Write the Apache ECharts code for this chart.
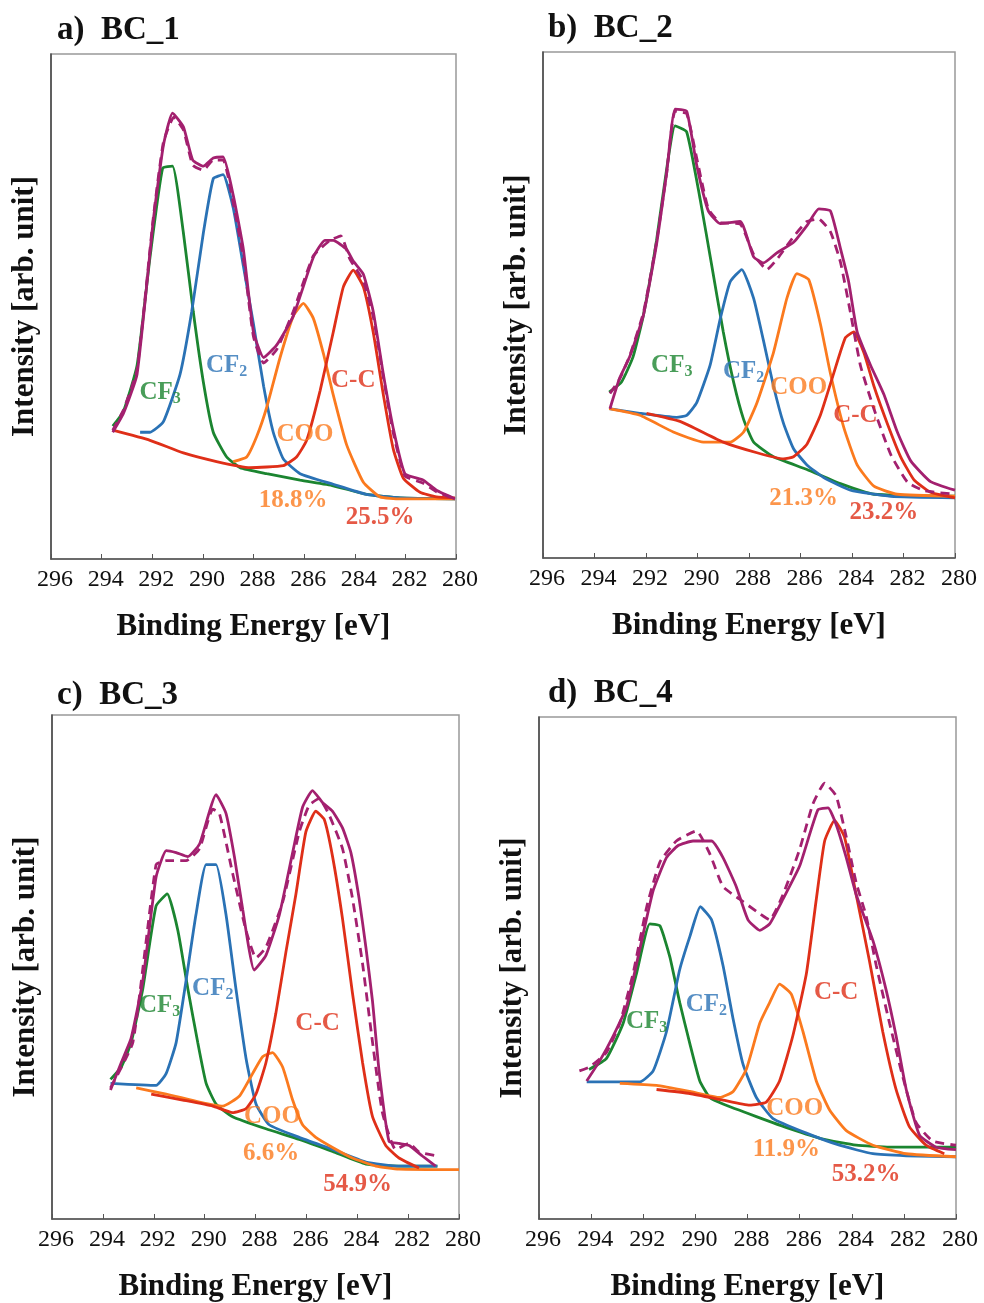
<!DOCTYPE html>
<html>
<head>
<meta charset="utf-8">
<script src="https://cdn.jsdelivr.net/npm/echarts@6/dist/echarts.min.js"></script>
<style>
  html, body { margin: 0; padding: 0; background: #fff; }
  #chart { width: 984px; height: 1303px; }
</style>
</head>
<body>
<div id="chart"></div>
<script>
// binding energy [eV] / intensity (0-100, arb.)
const a_env = [[293.56,25.1],[293.14,28.8],[292.6,36.6],[291.96,67],[291.56,81.9],[291.2,88.3],[290.77,85.6],[290.4,79],[289.98,77.8],[289.59,79.4],[289.2,79.6],[288.8,72],[288.4,61.3],[288.0,44.9],[287.6,39.9],[287.08,42.4],[286.43,48.1],[285.64,59.7],[285.18,63.1],[284.85,63.1],[284.32,61.3],[284.06,59],[283.66,56.4],[283.27,49],[282.87,36.6],[282.48,25.9],[282.02,16.9],[281.29,15.6],[280.77,13.6],[280.04,11.9]];
const a_meas = [[293.56,25.5],[293.14,29.5],[292.6,37.5],[291.96,67.5],[291.56,82.5],[291.15,87.5],[290.77,85],[290.4,78],[289.98,77],[289.59,79],[289.2,79],[288.8,70.5],[288.4,59.5],[288.0,44],[287.6,38.8],[287.08,41.5],[286.43,49],[285.64,60],[285.0,63],[284.55,64],[284.2,59.5],[283.66,55],[283.27,48],[282.87,36],[282.48,25],[282.02,16.5],[281.29,15],[280.77,13.3],[280.04,11.9]];
const a_cf3 = [[293.56,26.3],[293.14,29.2],[292.6,38.3],[292.09,59.7],[291.59,77.4],[291.2,77.8],[290.77,64.6],[290.38,49],[289.98,35],[289.59,25.1],[289.06,20.2],[288.53,18.1],[287.48,16.9],[286.16,15.6],[284.85,14.5],[283.53,12.8],[282.21,12.1],[280.04,11.9]];
const a_cf2 = [[292.48,25.1],[292.09,25.1],[291.56,27.2],[290.9,36.6],[290.44,49],[289.98,64.6],[289.59,75.3],[289.2,76.1],[288.8,69.5],[288.4,58],[288.0,46.5],[287.6,34.2],[287.22,25.1],[286.82,19.8],[286.16,16.9],[284.85,14.8],[283.53,12.8],[282.21,12.1],[280.04,11.9]];
const a_coo = [[288.8,19.3],[288.27,20.2],[287.87,24.3],[287.48,30],[286.95,39.9],[286.43,48.1],[286.03,50.6],[285.64,47.7],[285.24,40.7],[284.85,32.5],[284.32,22.6],[283.66,15.2],[283.0,12.3],[282.2,11.9],[280.04,11.9]];
const a_cc = [[293.56,25.5],[292.09,23.5],[290.77,21],[289.46,19.3],[288.14,18.1],[286.82,18.5],[286.3,20.2],[285.9,23.5],[285.37,33.3],[284.85,44.9],[284.45,53.9],[284.06,57.2],[283.66,53.9],[283.27,44.9],[282.87,32.5],[282.48,21.8],[282.08,16],[281.42,13.2],[280.77,12.3],[280.04,12.1]];

const b_env = [[293.4,29.5],[293.02,35.6],[292.63,39.8],[292.1,48],[291.59,62],[291.2,76],[290.87,88.7],[290.42,88.3],[290.03,77.6],[289.58,68.6],[289.12,66.1],[288.34,66.5],[287.82,59.5],[287.44,58.3],[286.92,60.3],[286.27,62.4],[285.75,65.7],[285.29,69],[284.84,68.6],[284.45,61.2],[284.13,54.6],[283.8,44.7],[283.28,38.1],[282.76,32.3],[282.24,24.9],[281.72,19.2],[280.95,15.1],[280.0,13.4]];
const b_meas = [[293.4,32.5],[293.02,35.4],[292.63,40],[292.1,48.5],[291.59,62.5],[291.2,76],[290.87,88.3],[290.42,87.8],[290.03,79],[289.58,69],[289.12,66.3],[288.34,66],[287.82,60],[287.3,57],[286.92,59],[286.27,63.5],[285.75,66.5],[285.3,67],[284.84,64.5],[284.45,58.5],[284.06,48.5],[283.67,38],[283.15,29.5],[282.5,20.5],[281.85,15],[281.2,13.3],[280.0,12.6]];
const b_cf3 = [[293.43,32.8],[292.95,34.8],[292.5,39.8],[292.1,48],[291.59,62.8],[291.2,76.8],[290.87,85.4],[290.42,84.2],[289.9,71],[289.45,57.9],[289.0,44.7],[288.6,34.8],[288.21,27.4],[287.82,22.9],[287.05,20],[285.75,17.5],[284.45,14.7],[283.15,12.6],[280,12.2]];
const b_cf2 = [[293.43,29.5],[292.24,28.6],[290.81,27.8],[290.42,28.2],[290.03,30.7],[289.51,38.1],[289.12,47.2],[288.73,54.6],[288.28,57],[287.82,51.3],[287.44,43],[287.05,34],[286.66,26.6],[286.27,21.6],[285.75,18.4],[285.1,15.9],[284.06,13.4],[282.5,12.2],[280,11.9]];
const b_coo = [[293.43,29.5],[292.24,28.2],[290.94,24.9],[289.77,22.9],[288.73,22.9],[288.21,24.9],[287.69,30.7],[287.05,40.6],[286.53,51.3],[286.14,56.2],[285.68,55],[285.23,46.3],[284.84,36.5],[284.32,25.8],[283.8,18.4],[283.15,14.2],[282.24,12.6],[280,12.2]];
const b_cc = [[291.98,28.6],[290.68,27],[289.0,22.9],[287.69,20.8],[286.66,19.6],[286.27,20],[285.75,22.5],[285.23,28.2],[284.71,36.5],[284.26,43.5],[283.93,44.7],[283.54,40.6],[283.15,34],[282.63,26.6],[282.11,20],[281.6,15.5],[280.95,13],[280,11.9]];

const c_env = [[293.7,25.6],[293.28,31],[292.89,35.9],[292.43,47.3],[291.91,67.8],[291.51,73.1],[291.12,72.7],[290.66,71.9],[290.2,74.4],[289.55,84.2],[289.16,80.5],[288.83,71.9],[288.5,61.3],[288.05,49.4],[287.59,52.3],[287.06,60.4],[286.54,72.7],[286.15,81.7],[285.76,85],[285.36,82.6],[284.97,80.9],[284.58,77.6],[284.25,72.7],[283.93,63.7],[283.66,53.9],[283.4,43.2],[283.14,29.3],[282.75,15.4],[282.36,15],[281.96,14.6],[281.44,12.5],[280.92,10.5]];
const c_meas = [[293.7,26],[292.82,35.1],[291.91,70.3],[291.51,71.1],[290.73,71.1],[290.2,73.5],[289.68,81.3],[289.42,80.5],[288.9,68.6],[288.37,57.2],[287.98,51.8],[287.59,53.9],[286.93,62.9],[286.28,76.8],[285.89,82.1],[285.5,83.4],[285.1,80.1],[284.58,73.5],[284.19,63.7],[283.79,50.6],[283.4,35.1],[283.01,21.1],[282.49,13.8],[281.96,15],[281.57,13.3],[280.85,12.5]];
const c_cf3 = [[293.7,27.7],[293.28,30.1],[292.89,35],[292.43,45.7],[291.91,62.1],[291.47,64.5],[291.05,57.2],[290.66,45.7],[290.27,35],[289.94,26.9],[289.55,22.8],[288.9,20.3],[287.59,17.9],[286.28,15.8],[284.97,13.4],[283.66,10.9],[282.36,10.5],[280.85,10.5]];
const c_cf2 = [[293.7,26.9],[291.91,26.5],[291.51,28.9],[291.12,35],[290.73,47.3],[290.34,60.4],[289.94,70.3],[289.55,70.3],[289.16,60.4],[288.77,45.7],[288.37,31.8],[287.98,22.8],[287.46,18.7],[286.28,16.2],[284.97,13.8],[283.66,11.3],[282.36,10.5],[280.85,10.5]];
const c_coo = [[292.69,26],[291.51,24.8],[290.2,23.2],[289.29,22.4],[288.63,24.4],[288.11,28.9],[287.72,32.2],[287.33,33],[286.93,30.1],[286.54,23.6],[286.15,18.7],[285.63,16.2],[284.97,14.2],[284.19,12.1],[283.27,10.5],[282.36,9.9],[280,9.8]];
const c_cc = [[292.1,24.8],[290.86,23.6],[289.68,22.4],[288.9,21.1],[288.37,21.9],[287.98,24.8],[287.59,31],[287.2,40.8],[286.8,53.1],[286.41,64.5],[286.02,76.8],[285.63,80.9],[285.3,79.3],[284.97,71.9],[284.58,59.6],[284.19,44.9],[283.79,31],[283.4,20.3],[282.88,14.6],[282.36,12.1],[281.57,10.1]];

const d_env = [[294.17,27.5],[293.66,31.6],[293.15,36.5],[292.64,42.3],[292.13,53.8],[291.62,65.4],[291.11,72],[290.66,74.4],[290.09,75.3],[289.38,75.3],[288.94,72],[288.43,66.2],[287.98,59.6],[287.53,57.5],[287.15,58.8],[286.64,63.7],[286.0,70.3],[285.3,81.5],[284.91,81.9],[284.6,78.6],[284.21,72],[283.83,64.6],[283.19,55.5],[282.68,45.6],[282.3,36.5],[281.91,25.8],[281.4,16.7],[280.76,14.3],[280.0,13.8]];
const d_meas = [[294.45,29.5],[294.05,30.3],[293.41,33.2],[292.9,39],[292.39,48.9],[291.87,62.1],[291.36,71.1],[290.73,75.3],[289.96,77.3],[289.45,72.8],[288.94,66.2],[288.3,63.7],[287.66,61.3],[287.15,59.6],[286.64,64.6],[286.0,73.6],[285.49,82.7],[285.04,86.8],[284.6,84.3],[284.21,76.1],[283.83,67],[283.45,60.4],[283.06,50.5],[282.55,39],[282.04,28.3],[281.53,19.2],[280.89,15.5],[280.0,14.7]];
const d_cf3 = [[294.08,29.8],[293.41,32],[292.77,39],[292.26,48.9],[291.75,58.8],[291.36,58.4],[290.98,52.2],[290.6,43.1],[290.21,34.9],[289.83,27.5],[289.45,24.2],[288.94,22.9],[287.66,20.4],[286.38,18],[285.1,15.9],[283.83,14.7],[282.55,14.3],[280,14.3]];
const d_cf2 = [[294.17,27.3],[292.13,27.3],[291.62,29.5],[291.11,37.3],[290.6,49.7],[290.21,56.3],[289.81,62.2],[289.38,59.6],[288.94,50.5],[288.55,39.8],[288.17,30.8],[287.66,24.2],[287.02,20],[285.74,17.1],[284.47,14.7],[283.19,13],[281.91,12.6],[280,12.4]];
const d_coo = [[292.9,27],[291.49,26.6],[290.21,25.4],[289.06,24.2],[288.55,25.4],[288.04,29.9],[287.53,39],[287.15,43.1],[286.77,46.8],[286.32,44.8],[285.87,37.3],[285.36,27.5],[284.85,21.7],[284.21,17.6],[283.19,14.7],[281.91,13],[280,12.4]];
const d_cc = [[291.49,25.8],[290.21,25],[288.94,23.7],[287.92,22.7],[287.28,23.3],[286.77,27.5],[286.26,36.5],[285.74,48.9],[285.36,63.7],[285.04,75.3],[284.66,79.4],[284.28,76.1],[283.83,64.6],[283.32,51.4],[282.81,37.3],[282.3,25.8],[281.79,18.4],[281.15,14.7],[280.45,13]];

// peak labels: text, subscript, energy, intensity, component
const a_tags = [['CF','3',291.69,32.9,'cf3'],['CF','2',289.06,38.3,'cf2'],['COO','',285.97,24.7,'coo'],['C-C','',284.06,35.4,'cc'],['18.8%','',286.43,11.5,'coo'],['25.5%','',283.0,8.2,'cc']];
const b_tags = [['CF','3',291.0,38.1,'cf3'],['CF','2',288.21,36.9,'cf2'],['COO','',286.07,33.6,'coo'],['C-C','',283.87,28.2,'cc'],['21.3%','',285.88,11.8,'coo'],['23.2%','',282.76,8.9,'cc']];
const c_tags = [['CF','3',291.77,42.4,'cf3'],['CF','2',289.68,45.7,'cf2'],['C-C','',285.56,38.7,'cc'],['COO','',287.33,20.3,'coo'],['6.6%','',287.39,12.9,'coo'],['54.9%','',283.99,6.8,'cc']];
const d_tags = [['CF','3',291.87,39.4,'cf3'],['CF','2',289.58,42.7,'cf2'],['C-C','',284.6,45.2,'cc'],['COO','',286.19,22.1,'coo'],['11.9%','',286.51,13.8,'coo'],['53.2%','',283.45,8.9,'cc']];

const titles = ['a)  BC_1', 'b)  BC_2', 'c)  BC_3', 'd)  BC_4'];

const FONT = '"Liberation Serif", "DejaVu Serif", serif';
const COLORS = { cf3: '#1b8530', cf2: '#2a72b5', coo: '#fb7a1e', cc: '#df2f18', env: '#a3206f' };

const panels = [
  { env: a_env, meas: a_meas, cf3: a_cf3, cf2: a_cf2, coo: a_coo, cc: a_cc, tags: a_tags },
  { env: b_env, meas: b_meas, cf3: b_cf3, cf2: b_cf2, coo: b_coo, cc: b_cc, tags: b_tags },
  { env: c_env, meas: c_meas, cf3: c_cf3, cf2: c_cf2, coo: c_coo, cc: c_cc, tags: c_tags },
  { env: d_env, meas: d_meas, cf3: d_cf3, cf2: d_cf2, coo: d_coo, cc: d_cc, tags: d_tags }
];

const grids = [
  { left: 51, top: 54, width: 405, height: 505 },
  { left: 543, top: 52, width: 412, height: 506 },
  { left: 52, top: 715, width: 407, height: 506 },
  { left: 539, top: 717, width: 417, height: 504 }
];
const titlePos = [[57, 14], [548, 12], [57, 679], [548, 677]];

const chart = echarts.init(document.getElementById('chart'));

const xAxes = [], yAxes = [], series = [];
grids.forEach((g, i) => {
  xAxes.push({
    gridIndex: i, type: 'value', min: 280, max: 296, interval: 2, inverse: true,
    showMinLabel: true, showMaxLabel: true,
    axisLine: { lineStyle: { color: '#555', width: 1.5 } },
    axisTick: { inside: true, length: 5, lineStyle: { color: '#555' } },
    axisLabel: { fontFamily: FONT, fontSize: 24, color: '#111', margin: 9, padding: [0, 0, 0, 8] },
    splitLine: { show: false },
    name: 'Binding Energy [eV]', nameLocation: 'middle', nameGap: 52,
    nameTextStyle: { fontFamily: FONT, fontSize: 31, fontWeight: 'bold', color: '#111' }
  });
  yAxes.push({
    gridIndex: i, type: 'value', min: 0, max: 100,
    axisLabel: { show: false }, axisTick: { show: false }, splitLine: { show: false },
    axisLine: { show: true, lineStyle: { color: '#444', width: 1.5 } },
    name: 'Intensity [arb. unit]', nameLocation: 'middle', nameGap: 11, nameRotate: 90,
    nameTextStyle: { fontFamily: FONT, fontSize: 31, fontWeight: 'bold', color: '#111' }
  });

  const p = panels[i];
  const line = (data, color, dashed) => ({
    type: 'line', xAxisIndex: i, yAxisIndex: i, data: data,
    symbol: 'none', smooth: 0.15,
    lineStyle: { color: color, width: 2.8, type: dashed ? [9, 6] : 'solid' }
  });
  series.push(line(p.cf3, COLORS.cf3));
  series.push(line(p.cf2, COLORS.cf2));
  series.push(line(p.coo, COLORS.coo));
  series.push(line(p.cc, COLORS.cc));
  series.push(line(p.env, COLORS.env));
  series.push(line(p.meas, COLORS.env, true));

  series.push({
    type: 'scatter', xAxisIndex: i, yAxisIndex: i, symbolSize: 0, z: 10,
    data: p.tags.map(t => {
      const col = COLORS[t[4]];
      return {
        value: [t[2], t[3]],
        label: {
          show: true, position: 'inside',
          formatter: t[1] ? '{m|' + t[0] + '}{s|' + t[1] + '}' : '{m|' + t[0] + '}',
          rich: {
            m: { fontFamily: FONT, fontSize: 25, fontWeight: 'bold', color: col },
            s: { fontFamily: FONT, fontSize: 16, fontWeight: 'bold', color: col, padding: [13, 0, 0, 0] }
          }
        }
      };
    })
  });
});

chart.setOption({
  animation: false,
  title: titles.map((t, i) => ({
    text: t, left: titlePos[i][0], top: titlePos[i][1], padding: 0,
    textStyle: { fontFamily: FONT, fontSize: 33, fontWeight: 'bold', color: '#111' }
  })),
  grid: grids.map(g => Object.assign({ show: true, borderColor: '#999', borderWidth: 1.5 }, g)),
  xAxis: xAxes,
  yAxis: yAxes,
  series: series
});
</script>
</body>
</html>
